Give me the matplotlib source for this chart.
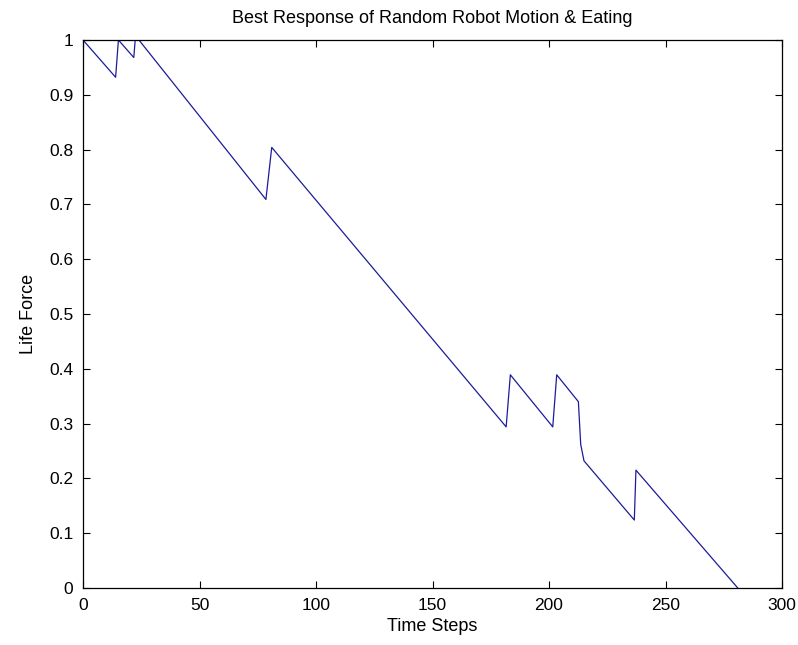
import matplotlib
matplotlib.use("Agg")
import matplotlib.pyplot as plt

# time step / life force at the corners of the trace
steps = [0, 14, 15.2, 21.8, 22.4, 24, 78.5, 81, 181.6, 183.4, 201.6, 203.3,
         212.6, 213.6, 215, 236.6, 237.3, 281]
life = [1.0, 0.932, 1.0, 0.968, 1.0, 1.0, 0.709, 0.804, 0.294, 0.389, 0.294, 0.389,
        0.340, 0.262, 0.232, 0.124, 0.215, 0.0]

xticks = [0, 50, 100, 150, 200, 250, 300]
yticks = [0, 0.1, 0.2, 0.3, 0.4, 0.5, 0.6, 0.7, 0.8, 0.9, 1]
yticklabels = ['0', '0.1', '0.2', '0.3', '0.4', '0.5', '0.6', '0.7', '0.8', '0.9', '1']

plt.rcParams['font.family'] = ['Liberation Sans', 'DejaVu Sans']

fig = plt.figure(figsize=(7.98, 6.45), dpi=100)
ax = fig.add_axes([0.104, 0.0884, 0.876, 0.8496])
ax.plot(steps, life, color='#1c1c9a', linewidth=0.9)

ax.set_xlim(0, 300)
ax.set_ylim(0, 1)
ax.set_xticks(xticks)
ax.set_yticks(yticks)
ax.set_yticklabels(yticklabels)
ax.tick_params(direction='in', top=True, right=True, length=5, width=0.8,
               labelsize=12.5, pad=7, colors='black')
for s in ax.spines.values():
    s.set_linewidth(0.9)

ax.set_title('Best Response of Random Robot Motion & Eating', fontsize=13, pad=12)
ax.set_xlabel('Time Steps', fontsize=13, labelpad=4)
ax.set_ylabel('Life Force', fontsize=13, labelpad=9)

plt.savefig('out.png', dpi=100)
